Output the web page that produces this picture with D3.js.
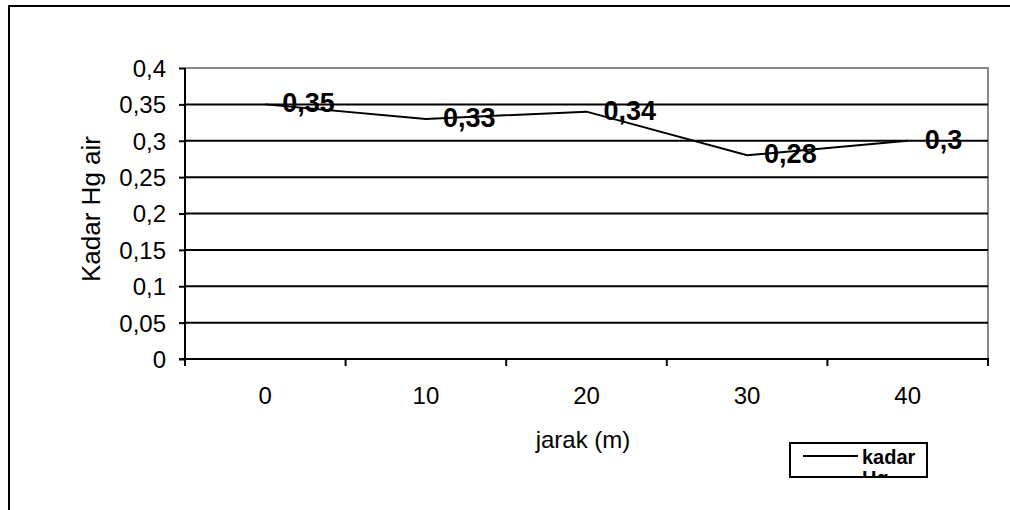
<!DOCTYPE html>
<html>
<head>
<meta charset="utf-8">
<script src="https://cdn.jsdelivr.net/npm/d3@7"></script>
<style>
  body { margin: 0; background: #fff; }
  text { font-family: "Liberation Sans", Arial, sans-serif; fill: #000; }
</style>
</head>
<body>
<svg id="chart" width="1010" height="510"></svg>
<script>
var categories = ['0', '10', '20', '30', '40']
var values = [0.35, 0.33, 0.34, 0.28, 0.3]
var valueLabels = ['0,35', '0,33', '0,34', '0,28', '0,3']
var yTicks = [0, 0.05, 0.1, 0.15, 0.2, 0.25, 0.3, 0.35, 0.4]
var yTickLabels = ['0', '0,05', '0,1', '0,15', '0,2', '0,25', '0,3', '0,35', '0,4']

var svg = d3.select('#chart')

var plotLeft = 185
,   plotRight = 988
,   plotTop = 68
,   plotBottom = 359

// outer chart border (runs off the right and bottom edge)
svg.append('path')
  .attr('d', 'M9,515V6H1015')
  .attr('fill', 'none')
  .attr('stroke', '#000')
  .attr('stroke-width', 2)

var x = d3.scaleBand().domain(categories).range([plotLeft, plotRight])
var y = d3.scaleLinear().domain([0, 0.4]).range([plotBottom, plotTop])

// plot area border (gray)
svg.append('path')
  .attr('d', 'M' + plotLeft + ',' + plotTop + 'H' + plotRight + 'V' + plotBottom)
  .attr('fill', 'none')
  .attr('stroke', '#888')
  .attr('stroke-width', 2)

// gridlines
svg.append('g').selectAll('line')
  .data(yTicks.filter((d) => d > 0 && d < 0.4))
  .enter().append('line')
  .attr('x1', plotLeft).attr('x2', plotRight)
  .attr('y1', (d) => y(d)).attr('y2', (d) => y(d))
  .attr('stroke', '#000')
  .attr('stroke-width', 2)

// y axis
var yAxis = d3.axisLeft(y)
  .tickValues(yTicks)
  .tickFormat((d, i) => yTickLabels[i])
  .tickSize(6)
  .tickPadding(13)

var gy = svg.append('g')
  .attr('transform', 'translate(' + plotLeft + ',0)')
  .call(yAxis)
gy.attr('font-family', null).attr('font-size', null)
gy.select('.domain').attr('stroke-width', 2).attr('d', 'M0,' + plotTop + 'V' + plotBottom)
gy.selectAll('.tick line').attr('stroke-width', 2)
gy.selectAll('.tick text')
  .style('font-size', '24px')
  .attr('dy', '0.35em')

// x axis: ticks at band boundaries, labels centred in bands
svg.append('line')
  .attr('x1', plotLeft - 6).attr('x2', plotRight + 1)
  .attr('y1', plotBottom).attr('y2', plotBottom)
  .attr('stroke', '#000')
  .attr('stroke-width', 2)

var bounds = categories.map((c) => x(c)).concat([x(categories[categories.length - 1]) + x.bandwidth()])
svg.append('g').selectAll('line')
  .data(bounds)
  .enter().append('line')
  .attr('x1', (d) => d).attr('x2', (d) => d)
  .attr('y1', plotBottom).attr('y2', plotBottom + 7)
  .attr('stroke', '#000')
  .attr('stroke-width', 2)

svg.append('g').selectAll('text')
  .data(categories)
  .enter().append('text')
  .attr('x', (d) => x(d) + x.bandwidth() / 2)
  .attr('y', 404)
  .attr('text-anchor', 'middle')
  .style('font-size', '24px')
  .text((d) => d)

// axis titles
svg.append('text')
  .attr('transform', 'translate(100,209) rotate(-90)')
  .attr('text-anchor', 'middle')
  .style('font-size', '26px')
  .text('Kadar Hg air')

svg.append('text')
  .attr('x', 583)
  .attr('y', 448)
  .attr('text-anchor', 'middle')
  .style('font-size', '24px')
  .text('jarak (m)')

// data line
var line = d3.line()
  .x((d, i) => x(categories[i]) + x.bandwidth() / 2)
  .y((d) => y(d))

svg.append('path')
  .datum(values)
  .attr('d', line)
  .attr('fill', 'none')
  .attr('stroke', '#000')
  .attr('stroke-width', 2)

// value labels, to the right of each point
svg.append('g').selectAll('text')
  .data(values)
  .enter().append('text')
  .attr('x', (d, i) => x(categories[i]) + x.bandwidth() / 2 + 17)
  .attr('y', (d) => y(d))
  .attr('dy', '0.3em')
  .style('font-size', '27px')
  .style('font-weight', 'bold')
  .text((d, i) => valueLabels[i])

// legend (second line clipped by the box)
svg.append('clipPath').attr('id', 'legclip')
  .append('rect').attr('x', 790).attr('y', 443).attr('width', 137).attr('height', 33)

var leg = svg.append('g')
leg.append('g').attr('clip-path', 'url(#legclip)')
  .append('text')
  .attr('x', 862).attr('y', 464)
  .style('font-size', '20px')
  .style('font-weight', 'bold')
  .call((t) => {
    t.append('tspan').text('kadar')
    t.append('tspan').attr('x', 862).attr('dy', 21).text('Hg')
  })
leg.append('line')
  .attr('x1', 803).attr('x2', 858)
  .attr('y1', 456).attr('y2', 456)
  .attr('stroke', '#000')
  .attr('stroke-width', 2)
leg.append('rect')
  .attr('x', 790).attr('y', 443).attr('width', 137).attr('height', 34)
  .attr('fill', 'none')
  .attr('stroke', '#000')
  .attr('stroke-width', 2)
</script>
</body>
</html>
